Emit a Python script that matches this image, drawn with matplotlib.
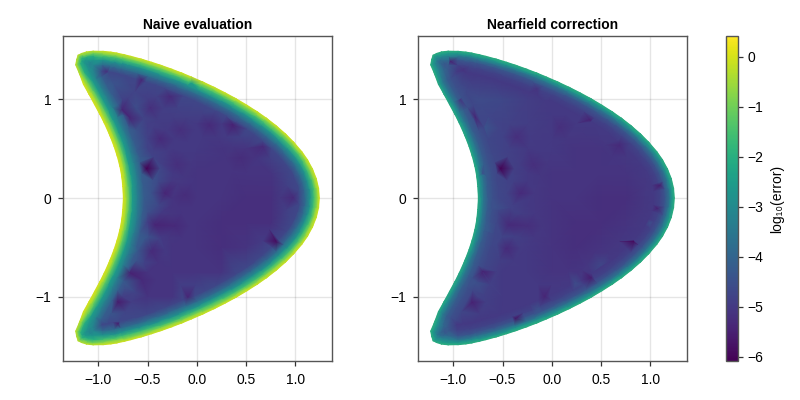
import numpy as np
import matplotlib
matplotlib.use("Agg")
import matplotlib.pyplot as plt
from matplotlib.path import Path
from matplotlib.patches import PathPatch
from matplotlib.tri import Triangulation, LinearTriInterpolator
from matplotlib.cm import ScalarMappable
from matplotlib.colors import Normalize

plt.rcParams['font.family'] = ['Liberation Sans', 'DejaVu Sans']

TITLES = ["Naive evaluation", "Nearfield correction"]
CBAR_LABEL = "log₁₀(error)"
X_TICKS = [-1.0, -0.5, 0.0, 0.5, 1.0]
Y_TICKS = [-1, 0, 1]
CBAR_TICKS = [-6, -5, -4, -3, -2, -1, 0]
VMIN, VMAX = -6.086, 0.42

# upper half of the boundary, from the right-hand nose over the tip to the inner curve
OUTER_X = [1.25, 1.242, 1.218, 1.178, 1.128, 1.073, .985, .902, .804, .707, .62, .511, .4, .29, .174, .062, -.052, -.15, -.246, -.352, -.458, -.558, -.668, -.743, -.81, -.871, -.95]
OUTER_Y = [0, .1, .2, .3, .39, .47, .572, .655, .74, .815, .875, .945, 1.01, 1.07, 1.128, 1.18, 1.23, 1.27, 1.307, 1.345, 1.38, 1.41, 1.44, 1.458, 1.472, 1.483, 1.49]
TIP_X = [-1.05, -1.12, -1.17, -1.21, -1.225, -1.235, -1.195]
TIP_Y = [1.492, 1.485, 1.468, 1.45, 1.4, 1.347, 1.255]
INNER_X = [-1.156, -1.1, -1.042, -.986, -.941, -.887, -.845, -.812, -.786, -.767, -.757, -.75]
INNER_Y = [1.149, 1.05, .943, .84, .75, .63, .52, .42, .32, .22, .116, 0]

# distance from the boundary of each ring, and the log error on it
RIM_DEPTH = [0, .03, .06, .1, .15, .21]
RIM_OUTER = [[.05, -.7, -1.6, -2.8, -3.9, -4.7], [-1.9, -2.7, -3.6, -4.4, -4.8, -5.0]]
RIM_TIP = [[-.1, -1.0, -2.0, -2.7, -3.1, -3.6], [-1.9, -2.6, -3.2, -3.9, -4.3, -4.7]]
RIM_INNER = [[.1, -.4, -1.2, -2.5, -3.3, -4.2], [-2.0, -2.8, -3.5, -4.2, -4.5, -4.7]]

GRID_X = [-1, -.75, -.5, -.25, 0, .25, .5, .75, 1]
GRID_Y = [1.25, 1, .75, .5, .25, 0, -.25, -.5, -.75, -1, -1.25]
GRID_LEFT = [
    [-4.8, -4.9, -5.0, -4.9, -4.8, -4.8, -4.8, -4.8, -4.8],
    [-4.7, -4.8, -4.9, -5.0, -5.0, -4.8, -4.8, -4.8, -4.8],
    [-4.7, -4.7, -4.9, -5.0, -5.0, -5.0, -5.0, -4.9, -4.8],
    [-4.7, -4.6, -4.8, -5.0, -5.0, -5.1, -5.1, -5.0, -4.9],
    [-4.7, -4.6, -4.9, -5.0, -5.1, -5.1, -5.1, -5.1, -5.0],
    [-4.7, -4.5, -4.9, -5.1, -5.1, -5.1, -5.2, -5.2, -5.1],
    [-4.7, -4.5, -4.9, -5.1, -5.1, -5.2, -5.2, -5.2, -5.0],
    [-4.7, -4.7, -5.0, -5.1, -5.1, -5.2, -5.1, -5.0, -4.8],
    [-4.8, -4.8, -5.1, -5.1, -5.1, -5.1, -5.0, -4.8, -4.7],
    [-4.8, -4.9, -5.1, -5.1, -5.1, -4.9, -4.8, -4.8, -4.8],
    [-4.8, -5.0, -5.0, -4.9, -4.8, -4.8, -4.8, -4.8, -4.8],
]
GRID_RIGHT = [
    [-4.7, -4.7, -4.8, -4.8, -4.8, -4.8, -4.8, -4.8, -4.8],
    [-4.6, -4.6, -4.7, -4.9, -4.8, -4.8, -4.8, -4.8, -4.8],
    [-4.6, -4.5, -4.8, -4.9, -5.0, -5.0, -5.0, -4.9, -4.8],
    [-4.6, -4.6, -4.8, -5.0, -5.0, -5.1, -5.1, -5.0, -4.9],
    [-4.6, -4.6, -4.8, -5.0, -5.1, -5.1, -5.1, -5.1, -5.0],
    [-4.6, -4.5, -4.7, -5.0, -5.1, -5.1, -5.2, -5.2, -5.1],
    [-4.6, -4.5, -4.6, -5.0, -5.1, -5.2, -5.2, -5.1, -4.9],
    [-4.6, -4.6, -4.9, -5.0, -5.1, -5.2, -5.1, -4.9, -4.8],
    [-4.7, -4.6, -5.0, -5.0, -5.1, -5.1, -4.9, -4.8, -4.8],
    [-4.7, -4.8, -5.0, -5.0, -5.0, -4.7, -4.8, -4.8, -4.8],
    [-4.6, -4.9, -4.9, -4.8, -4.7, -4.8, -4.8, -4.8, -4.8],
]

# local features: x, y, log error
SPOT_X_LEFT = [-.51, -.56, -.915, -.76, -.68, -.475, -.27, -.37, -.17, .13, .37, .675, -.2, .44, -.32, -.12, .98, -.425, -.22, .81, -.46, -.68, -.56, -.8, -.8, -.09, -.05]
SPOT_Y_LEFT = [.30, 1.2, 1.28, .89, .81, .91, 1.03, .6, .69, .74, .74, .52, .34, .40, .05, .03, 0, -.27, -.28, -.44, -.53, -.76, -.83, -1.05, -1.27, -1.0, 1.17]
SPOT_V_LEFT = [-6.1, -5.4, -5.2, -5.4, -5.4, -5.2, -5.3, -5.3, -5.2, -5.3, -5.5, -5.3, -5.2, -5.25, -5.4, -5.25, -5.3, -5.4, -5.3, -5.9, -5.3, -5.5, -5.3, -5.6, -5.6, -5.4, -2.3]
SPOT_X_RIGHT = [-.52, -1.03, -.9, -.93, -.78, -.15, -.36, .08, .39, .69, 1.1, -.19, -.32, -.44, -.24, .83, 1.07, -.46, -.7, -.81, -.37, -.07, .4, -.68, -.7, -.56, -.63, -.76, -.15, .24, .5, .99]
SPOT_Y_RIGHT = [.30, 1.38, 1.3, .99, .82, 1.11, .62, .72, .79, .54, .13, .34, .05, -.27, -.28, -.44, -.1, -.51, -.75, -1.05, -1.22, -1.0, -.81, .71, .25, -.1, -.34, -.86, -1.12, -.86, -.68, -.25]
SPOT_V_RIGHT = [-6.1, -5.5, -5.1, -5.1, -5.4, -5.1, -5.2, -5.2, -5.5, -5.3, -5.6, -5.2, -5.3, -5.3, -5.2, -5.9, -5.5, -5.3, -5.5, -5.5, -5.8, -5.4, -5.6, -4.4, -4.5, -4.5, -4.4, -4.5, -4.5, -4.6, -4.7, -4.6]
SPOT_RADIUS = .14


def boundary():
    top_x = OUTER_X + TIP_X + INNER_X
    top_y = OUTER_Y + TIP_Y + INNER_Y
    kinds = [0] * len(OUTER_X) + [1] * len(TIP_X) + [2] * len(INNER_X)
    x = np.array(top_x + top_x[-2:0:-1], float)
    y = np.array(top_y + [-v for v in top_y[-2:0:-1]], float)
    k = np.array(kinds + kinds[-2:0:-1])
    return x, y, k


def polyline_distance(px, py, bx, by):
    cx, cy = np.roll(bx, -1), np.roll(by, -1)
    dx, dy = cx - bx, cy - by
    t = ((px[:, None] - bx) * dx + (py[:, None] - by) * dy) / (dx * dx + dy * dy)
    t = np.clip(t, 0, 1)
    return np.hypot(px[:, None] - bx - t * dx, py[:, None] - by - t * dy).min(axis=1)


def vertices(panel, grid, sx, sy, sv):
    bx, by, kind = boundary()
    poly = Path(np.c_[bx, by])
    tx = np.roll(bx, -1) - np.roll(bx, 1)
    ty = np.roll(by, -1) - np.roll(by, 1)
    n = np.hypot(tx, ty)
    nx, ny = -ty / n, tx / n
    profiles = [RIM_OUTER[panel], RIM_TIP[panel], RIM_INNER[panel]]
    xs, ys, vs = [bx], [by], [np.array([profiles[k][0] for k in kind])]
    for j, d in enumerate(RIM_DEPTH):
        if j == 0:
            continue
        qx, qy = bx + d * nx, by + d * ny
        dist = polyline_distance(qx, qy, bx, by)
        keep = poly.contains_points(np.c_[qx, qy]) & (dist > .8 * d)
        xs.append(qx[keep])
        ys.append(qy[keep])
        vs.append(np.array([profiles[k][j] for k in kind[keep]]))
    sx, sy, sv = np.array(sx), np.array(sy), np.array(sv)
    gx, gy = np.meshgrid(GRID_X, GRID_Y)
    gx, gy, gv = gx.ravel(), gy.ravel(), np.array(grid).ravel()
    keep = poly.contains_points(np.c_[gx, gy]) & (polyline_distance(gx, gy, bx, by) > RIM_DEPTH[-1] + .04)
    keep &= np.hypot(gx[:, None] - sx, gy[:, None] - sy).min(axis=1) > .07
    xs.append(gx[keep])
    ys.append(gy[keep])
    vs.append(gv[keep])
    x0, y0, v0 = np.concatenate(xs), np.concatenate(ys), np.concatenate(vs)

    # support points around each feature, lying on the surface that is already there,
    # so that a feature stays a small local dip
    base = Triangulation(x0, y0)
    cen = np.c_[x0[base.triangles].mean(axis=1), y0[base.triangles].mean(axis=1)]
    base.set_mask(~poly.contains_points(cen))
    surface = LinearTriInterpolator(base, v0)
    ang = np.radians([0, 60, 120, 180, 240, 300])
    hx = (sx[:, None] + SPOT_RADIUS * np.cos(ang)).ravel()
    hy = (sy[:, None] + SPOT_RADIUS * np.sin(ang)).ravel()
    keep = poly.contains_points(np.c_[hx, hy]) & (polyline_distance(hx, hy, bx, by) > RIM_DEPTH[-1])
    keep &= np.hypot(hx[:, None] - sx, hy[:, None] - sy).min(axis=1) > .1
    keep &= np.hypot(hx[:, None] - x0, hy[:, None] - y0).min(axis=1) > .05
    hx, hy = hx[keep], hy[keep]
    hv = np.ma.filled(surface(hx, hy), np.nan)
    ok = np.isfinite(hv)
    return (np.concatenate([x0, hx[ok], sx]), np.concatenate([y0, hy[ok], sy]),
            np.concatenate([v0, hv[ok], sv]), poly)


fig = plt.figure(figsize=(8, 4), dpi=100)
norm = Normalize(VMIN, VMAX)
axes_px = [(63, 332), (418, 687)]
datasets = [(GRID_LEFT, SPOT_X_LEFT, SPOT_Y_LEFT, SPOT_V_LEFT), (GRID_RIGHT, SPOT_X_RIGHT, SPOT_Y_RIGHT, SPOT_V_RIGHT)]
SPINE = '#555555'

for i, ((l, r), data) in enumerate(zip(axes_px, datasets)):
    ax = fig.add_axes([l / 800, 39 / 400, (r - l) / 800, 325 / 400])
    x, y, v, poly = vertices(i, *data)
    tri = Triangulation(x, y)
    cen = np.c_[x[tri.triangles].mean(axis=1), y[tri.triangles].mean(axis=1)]
    tri.set_mask(~poly.contains_points(cen))
    art = ax.tripcolor(tri, v, shading='gouraud', cmap='viridis', norm=norm, zorder=2)
    clip = PathPatch(poly, transform=ax.transData, fc='none', ec='none')
    ax.add_patch(clip)
    art.set_clip_path(clip)
    ax.set_xlim(-1.358, 1.373)
    ax.set_ylim(-1.65, 1.64)
    ax.set_xticks(X_TICKS)
    ax.set_yticks(Y_TICKS)
    ax.set_xticklabels(["−1.0", "−0.5", "0.0", "0.5", "1.0"])
    ax.set_yticklabels(["−1", "0", "1"])
    ax.grid(True, color='black', alpha=.1, lw=1)
    ax.set_axisbelow(True)
    ax.tick_params(labelsize=10, length=3.5, width=.9, pad=5, color='#333333')
    for s in ax.spines.values():
        s.set_linewidth(1.0)
        s.set_color(SPINE)
    ax.set_title(TITLES[i], fontsize=10, fontweight='bold', pad=5)

cax = fig.add_axes([726 / 800, 39 / 400, 12 / 800, 325 / 400])
cb = fig.colorbar(ScalarMappable(norm=norm, cmap='viridis'), cax=cax)
cb.set_ticks(CBAR_TICKS)
cb.set_ticklabels(["−6", "−5", "−4", "−3", "−2", "−1", "0"])
cb.ax.tick_params(labelsize=10, length=3.5, width=.9, pad=3, color='#333333')
cb.outline.set_linewidth(1.0)
cb.outline.set_edgecolor(SPINE)
cb.set_label(CBAR_LABEL, fontsize=10, labelpad=5)

fig.savefig("out.png", dpi=100)
